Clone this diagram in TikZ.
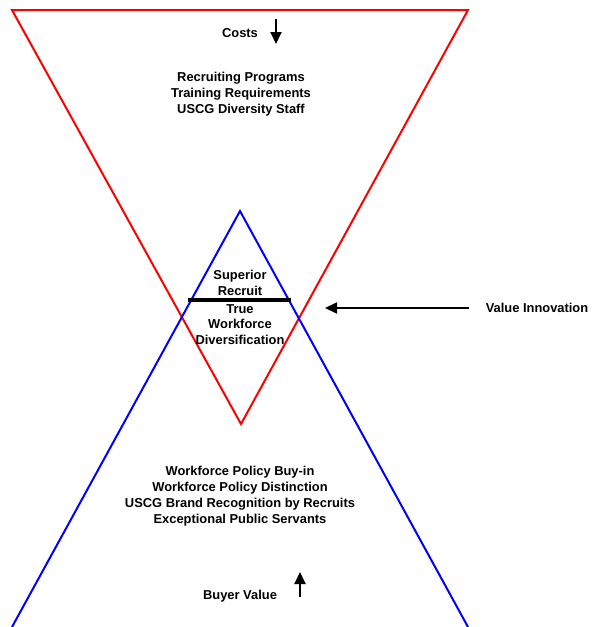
\documentclass[tikz,border=0pt]{standalone}
\usepackage{fontspec}
\setmainfont{Liberation Sans}
\usetikzlibrary{arrows.meta,positioning}

\begin{document}
\begin{tikzpicture}[
  x=1pt, y=-1pt,
  label/.style={align=center, inner sep=0pt, font=\fontsize{12.9}{15.8}\selectfont\bfseries},
  costedge/.style={draw=red, line width=2pt, line join=miter},
  valueedge/.style={draw=blue, line width=2pt},
  arrow/.style={-{Triangle[length=12pt, width=11pt]}, line width=2pt}
]
\useasboundingbox (0,0) rectangle (594,627);
% corners of the two triangles
\coordinate (costTL) at (12,10);
\coordinate (costTR) at (468,10);
\coordinate (costB) at (241,424);
\coordinate (valueT) at (240,211);
\coordinate (valueBL) at (12,627);
\coordinate (valueBR) at (468,627);
\draw[costedge] (costTL) -- (costTR) -- (costB) -- cycle;
\draw[valueedge] (valueBL) -- (valueT) -- (valueBR);

\node[label] (costs) at (240,33) {Costs};
\node[label] (costitems) at (241,94) {Recruiting Programs\\Training Requirements\\USCG Diversity Staff};
\node[label, anchor=south] (superior) at (240,296) {Superior\\Recruit};
\node[label, anchor=north] (true) at (240,304) {True\\Workforce\\Diversification};
\node[label] (innovation) at (537,308) {Value Innovation};
\node[label] (valueitems) at (240,496) {Workforce Policy Buy-in\\Workforce Policy Distinction\\USCG Brand Recognition by Recruits\\Exceptional Public Servants};
\node[label] (buyer) at (240,596) {Buyer Value};

% arrows
\coordinate (downS) at (276,19);
\coordinate (downE) at (276,44);
\coordinate (innovE) at (325,308);
\coordinate (upS) at (300,597);
\coordinate (upE) at (300,572);
\draw[arrow] (downS) -- (downE);
\draw[arrow] (innovation.west) ++(-17,0) coordinate (innovS) -- (innovE);
\draw[arrow] (upS) -- (upE);

% dividing bar
\coordinate (barL) at (188,300);
\coordinate (barR) at (291,300);
\draw[line width=3.5pt] (barL) -- (barR);
\end{tikzpicture}
\end{document}
